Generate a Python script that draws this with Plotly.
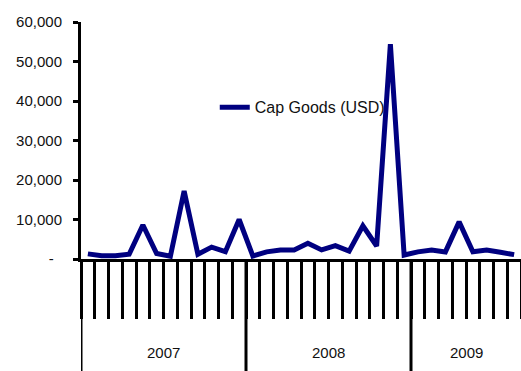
import plotly.graph_objects as go

# Monthly capital goods imports, USD
years = ["2007", "2008", "2009"]
months_per_year = [12, 12, 8]
cap_goods = [
    1300, 800, 800, 1200, 8600, 1400, 700, 17200, 1200, 3000, 1850, 10000,
    750, 1800, 2300, 2300, 4000, 2300, 3400, 2000, 8400, 3300, 54400, 1000,
    1800, 2300, 1800, 9400, 1850, 2300, 1700, 1100,
]
y_ticks = [0, 10000, 20000, 30000, 40000, 50000, 60000]
y_tick_text = ["-\u00a0\u00a0", "10,000", "20,000", "30,000", "40,000", "50,000", "60,000"]

FONT = "Liberation Sans, Arial, sans-serif"
n = len(cap_goods)
x = list(range(n))

fig = go.Figure()
fig.add_trace(go.Scatter(
    x=x, y=cap_goods, mode="lines", name="Cap Goods (USD)",
    line=dict(color="#000080", width=5),
))

# year group boundaries and labels under the month ticks
start = 0
for yr, cnt in zip(years, months_per_year):
    fig.add_shape(type="line", xref="x", yref="paper",
                  x0=start - 0.5, x1=start - 0.5, y0=0, y1=-0.48,
                  line=dict(color="black", width=3))
    fig.add_annotation(x=start + (cnt - 1) / 2, y=-0.437, xref="x", yref="paper",
                       text=yr, showarrow=False,
                       font=dict(family=FONT, size=15, color="#111"))
    start += cnt

fig.update_layout(
    width=521, height=371,
    margin=dict(l=81, r=0, t=22, b=112),
    paper_bgcolor="white", plot_bgcolor="white",
    showlegend=True,
    legend=dict(x=0.304, y=0.64, xanchor="left", yanchor="middle",
                bgcolor="rgba(0,0,0,0)",
                font=dict(family=FONT, size=16, color="#111")),
    xaxis=dict(
        range=[-0.5, n - 0.5], showgrid=False, zeroline=False,
        showline=True, linecolor="black", linewidth=3,
        tickmode="array", tickvals=[i - 0.5 for i in range(n + 1)],
        showticklabels=False,
        ticks="outside", ticklen=57, tickwidth=3, tickcolor="black",
    ),
    yaxis=dict(
        range=[0, 60000], showgrid=False, zeroline=False,
        showline=True, linecolor="black", linewidth=3,
        tickmode="array", tickvals=y_ticks, ticktext=y_tick_text,
        ticks="outside", ticklen=5, tickwidth=3, tickcolor="black",
        ticklabelstandoff=8,
        tickfont=dict(family=FONT, size=15, color="#111"),
    ),
)

fig.write_html("out.html")
